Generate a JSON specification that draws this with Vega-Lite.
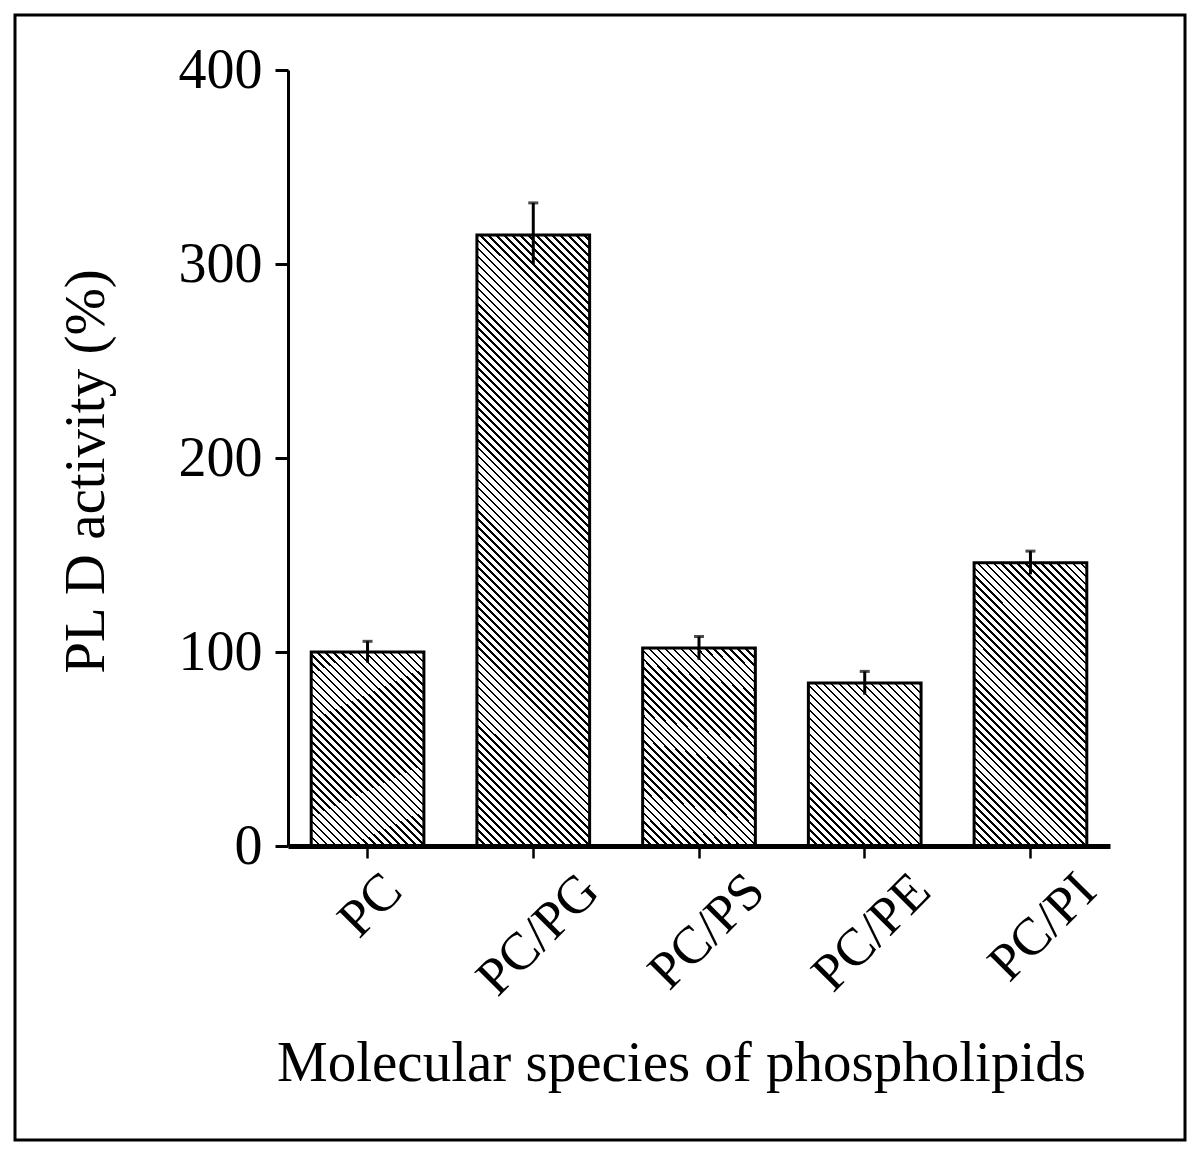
{
  "$schema": "https://vega.github.io/schema/vega-lite/v6.json",
  "width": 1170,
  "height": 1125,
  "autosize": {"type": "none"},
  "padding": {"left": 15, "top": 15, "right": 15, "bottom": 9},
  "background": "white",
  "config": {
    "view": {"stroke": "black", "strokeWidth": 3},
    "font": "Liberation Serif",
    "axis": {"labelFont": "Liberation Serif", "titleFont": "Liberation Serif", "labelColor": "black", "titleColor": "black", "tickColor": "black", "domainColor": "black", "grid": false, "titleFontWeight": "normal"}
  },
  "data": {"values": [
    {"species": "PC", "activity": 100, "lo": 94.5, "hi": 105.5},
    {"species": "PC/PG", "activity": 315, "lo": 300, "hi": 331.5},
    {"species": "PC/PS", "activity": 102, "lo": 96, "hi": 108},
    {"species": "PC/PE", "activity": 84, "lo": 78, "hi": 90},
    {"species": "PC/PI", "activity": 146, "lo": 140, "hi": 152}
  ]},
  "encoding": {
    "x": {
      "field": "species", "type": "nominal", "sort": null,
      "scale": {"domain": ["PC", "PC/PG", "PC/PS", "PC/PE", "PC/PI"], "range": [273, 1095], "paddingInner": 0.32, "paddingOuter": 0.14},
      "axis": {
        "title": "Molecular species of phospholipids",
        "titleFontSize": 57, "titleX": 666, "titleY": 234, "titleBaseline": "alphabetic", "titleAlign": "center",
        "labelAngle": -45, "labelAlign": "right", "labelBaseline": "middle", "labelFontSize": 53,
        "labelPadding": 24,
        "labelOffset": {"condition": {"test": "length(datum.label) < 3", "value": 26}, "value": 57},
        "tickSize": 12, "tickWidth": 2.5, "domainWidth": 5, "offset": -294, "zindex": 1
      }
    }
  },
  "layer": [
    {
      "transform": [{"filter": {"field": "species", "oneOf": ["PC", "PC/PS"]}}],
      "mark": {"type": "bar", "stroke": "black", "strokeWidth": 3, "fill": {"gradient": "linear", "x1": 0, "y1": 1, "x2": 0.6806, "y2": -0.1837, "stops": [
{"offset":0,"color":"#000"},{"offset":0.0087,"color":"#000"},{"offset":0.0087,"color":"#fff"},{"offset":0.026,"color":"#fff"},
{"offset":0.026,"color":"#000"},{"offset":0.0347,"color":"#000"},{"offset":0.0347,"color":"#fff"},{"offset":0.052,"color":"#fff"},
{"offset":0.052,"color":"#000"},{"offset":0.0607,"color":"#000"},{"offset":0.0607,"color":"#fff"},{"offset":0.078,"color":"#fff"},
{"offset":0.078,"color":"#000"},{"offset":0.0867,"color":"#000"},{"offset":0.0867,"color":"#fff"},{"offset":0.104,"color":"#fff"},
{"offset":0.104,"color":"#000"},{"offset":0.1127,"color":"#000"},{"offset":0.1127,"color":"#fff"},{"offset":0.13,"color":"#fff"},
{"offset":0.13,"color":"#000"},{"offset":0.1387,"color":"#000"},{"offset":0.1387,"color":"#fff"},{"offset":0.156,"color":"#fff"},
{"offset":0.156,"color":"#000"},{"offset":0.1647,"color":"#000"},{"offset":0.1647,"color":"#fff"},{"offset":0.182,"color":"#fff"},
{"offset":0.182,"color":"#000"},{"offset":0.1907,"color":"#000"},{"offset":0.1907,"color":"#fff"},{"offset":0.208,"color":"#fff"},
{"offset":0.208,"color":"#000"},{"offset":0.2167,"color":"#000"},{"offset":0.2167,"color":"#fff"},{"offset":0.234,"color":"#fff"},
{"offset":0.234,"color":"#000"},{"offset":0.2427,"color":"#000"},{"offset":0.2427,"color":"#fff"},{"offset":0.26,"color":"#fff"},
{"offset":0.26,"color":"#000"},{"offset":0.2687,"color":"#000"},{"offset":0.2687,"color":"#fff"},{"offset":0.286,"color":"#fff"},
{"offset":0.286,"color":"#000"},{"offset":0.2947,"color":"#000"},{"offset":0.2947,"color":"#fff"},{"offset":0.312,"color":"#fff"},
{"offset":0.312,"color":"#000"},{"offset":0.3207,"color":"#000"},{"offset":0.3207,"color":"#fff"},{"offset":0.338,"color":"#fff"},
{"offset":0.338,"color":"#000"},{"offset":0.3467,"color":"#000"},{"offset":0.3467,"color":"#fff"},{"offset":0.364,"color":"#fff"},
{"offset":0.364,"color":"#000"},{"offset":0.3727,"color":"#000"},{"offset":0.3727,"color":"#fff"},{"offset":0.39,"color":"#fff"},
{"offset":0.39,"color":"#000"},{"offset":0.3987,"color":"#000"},{"offset":0.3987,"color":"#fff"},{"offset":0.416,"color":"#fff"},
{"offset":0.416,"color":"#000"},{"offset":0.4247,"color":"#000"},{"offset":0.4247,"color":"#fff"},{"offset":0.442,"color":"#fff"},
{"offset":0.442,"color":"#000"},{"offset":0.4507,"color":"#000"},{"offset":0.4507,"color":"#fff"},{"offset":0.468,"color":"#fff"},
{"offset":0.468,"color":"#000"},{"offset":0.4767,"color":"#000"},{"offset":0.4767,"color":"#fff"},{"offset":0.494,"color":"#fff"},
{"offset":0.494,"color":"#000"},{"offset":0.5027,"color":"#000"},{"offset":0.5027,"color":"#fff"},{"offset":0.52,"color":"#fff"},
{"offset":0.52,"color":"#000"},{"offset":0.5287,"color":"#000"},{"offset":0.5287,"color":"#fff"},{"offset":0.546,"color":"#fff"},
{"offset":0.546,"color":"#000"},{"offset":0.5547,"color":"#000"},{"offset":0.5547,"color":"#fff"},{"offset":0.572,"color":"#fff"},
{"offset":0.572,"color":"#000"},{"offset":0.5807,"color":"#000"},{"offset":0.5807,"color":"#fff"},{"offset":0.598,"color":"#fff"},
{"offset":0.598,"color":"#000"},{"offset":0.6067,"color":"#000"},{"offset":0.6067,"color":"#fff"},{"offset":0.624,"color":"#fff"},
{"offset":0.624,"color":"#000"},{"offset":0.6327,"color":"#000"},{"offset":0.6327,"color":"#fff"},{"offset":0.65,"color":"#fff"},
{"offset":0.65,"color":"#000"},{"offset":0.6587,"color":"#000"},{"offset":0.6587,"color":"#fff"},{"offset":0.676,"color":"#fff"},
{"offset":0.676,"color":"#000"},{"offset":0.6847,"color":"#000"},{"offset":0.6847,"color":"#fff"},{"offset":0.702,"color":"#fff"},
{"offset":0.702,"color":"#000"},{"offset":0.7107,"color":"#000"},{"offset":0.7107,"color":"#fff"},{"offset":0.728,"color":"#fff"},
{"offset":0.728,"color":"#000"},{"offset":0.7367,"color":"#000"},{"offset":0.7367,"color":"#fff"},{"offset":0.754,"color":"#fff"},
{"offset":0.754,"color":"#000"},{"offset":0.7627,"color":"#000"},{"offset":0.7627,"color":"#fff"},{"offset":0.78,"color":"#fff"},
{"offset":0.78,"color":"#000"},{"offset":0.7887,"color":"#000"},{"offset":0.7887,"color":"#fff"},{"offset":0.806,"color":"#fff"},
{"offset":0.806,"color":"#000"},{"offset":0.8147,"color":"#000"},{"offset":0.8147,"color":"#fff"},{"offset":0.832,"color":"#fff"},
{"offset":0.832,"color":"#000"},{"offset":0.8407,"color":"#000"},{"offset":0.8407,"color":"#fff"},{"offset":0.858,"color":"#fff"},
{"offset":0.858,"color":"#000"},{"offset":0.8667,"color":"#000"},{"offset":0.8667,"color":"#fff"},{"offset":0.884,"color":"#fff"},
{"offset":0.884,"color":"#000"},{"offset":0.8927,"color":"#000"},{"offset":0.8927,"color":"#fff"},{"offset":0.91,"color":"#fff"},
{"offset":0.91,"color":"#000"},{"offset":0.9187,"color":"#000"},{"offset":0.9187,"color":"#fff"},{"offset":0.936,"color":"#fff"},
{"offset":0.936,"color":"#000"},{"offset":0.9447,"color":"#000"},{"offset":0.9447,"color":"#fff"},{"offset":0.962,"color":"#fff"},
{"offset":0.962,"color":"#000"},{"offset":0.9707,"color":"#000"},{"offset":0.9707,"color":"#fff"},{"offset":0.988,"color":"#fff"},
{"offset":0.988,"color":"#000"},{"offset":0.9967,"color":"#000"},{"offset":0.9967,"color":"#fff"},{"offset":1,"color":"#fff"}
      ]}},
      "encoding": {
        "y": {
          "field": "activity", "type": "quantitative",
          "scale": {"domain": [0, 400], "range": [831, 55], "nice": false, "zero": true},
          "axis": {
            "title": "PL D activity (%)", "values": [0, 100, 200, 300, 400],
            "offset": -273, "tickSize": 13, "tickWidth": 3, "domainWidth": 3,
            "labelFontSize": 56, "labelPadding": 13,
            "titleFontSize": 57, "titleX": -185, "titleY": 456, "titleBaseline": "alphabetic", "titleAngle": 270, "titleAlign": "center",
            "zindex": 1
          }
        }
      }
    },
    {
      "transform": [{"filter": {"field": "species", "equal": "PC/PG"}}],
      "mark": {"type": "bar", "stroke": "black", "strokeWidth": 3, "fill": {"gradient": "linear", "x1": 0, "y1": 1, "x2": 0.2112, "y2": -0.1455, "stops": [
{"offset":0,"color":"#000"},{"offset":0.0037,"color":"#000"},{"offset":0.0037,"color":"#fff"},{"offset":0.011,"color":"#fff"},
{"offset":0.011,"color":"#000"},{"offset":0.0147,"color":"#000"},{"offset":0.0147,"color":"#fff"},{"offset":0.022,"color":"#fff"},
{"offset":0.022,"color":"#000"},{"offset":0.0257,"color":"#000"},{"offset":0.0257,"color":"#fff"},{"offset":0.033,"color":"#fff"},
{"offset":0.033,"color":"#000"},{"offset":0.0367,"color":"#000"},{"offset":0.0367,"color":"#fff"},{"offset":0.044,"color":"#fff"},
{"offset":0.044,"color":"#000"},{"offset":0.0477,"color":"#000"},{"offset":0.0477,"color":"#fff"},{"offset":0.055,"color":"#fff"},
{"offset":0.055,"color":"#000"},{"offset":0.0587,"color":"#000"},{"offset":0.0587,"color":"#fff"},{"offset":0.066,"color":"#fff"},
{"offset":0.066,"color":"#000"},{"offset":0.0697,"color":"#000"},{"offset":0.0697,"color":"#fff"},{"offset":0.077,"color":"#fff"},
{"offset":0.077,"color":"#000"},{"offset":0.0807,"color":"#000"},{"offset":0.0807,"color":"#fff"},{"offset":0.088,"color":"#fff"},
{"offset":0.088,"color":"#000"},{"offset":0.0917,"color":"#000"},{"offset":0.0917,"color":"#fff"},{"offset":0.099,"color":"#fff"},
{"offset":0.099,"color":"#000"},{"offset":0.1027,"color":"#000"},{"offset":0.1027,"color":"#fff"},{"offset":0.11,"color":"#fff"},
{"offset":0.11,"color":"#000"},{"offset":0.1137,"color":"#000"},{"offset":0.1137,"color":"#fff"},{"offset":0.121,"color":"#fff"},
{"offset":0.121,"color":"#000"},{"offset":0.1247,"color":"#000"},{"offset":0.1247,"color":"#fff"},{"offset":0.132,"color":"#fff"},
{"offset":0.132,"color":"#000"},{"offset":0.1357,"color":"#000"},{"offset":0.1357,"color":"#fff"},{"offset":0.143,"color":"#fff"},
{"offset":0.143,"color":"#000"},{"offset":0.1467,"color":"#000"},{"offset":0.1467,"color":"#fff"},{"offset":0.154,"color":"#fff"},
{"offset":0.154,"color":"#000"},{"offset":0.1577,"color":"#000"},{"offset":0.1577,"color":"#fff"},{"offset":0.165,"color":"#fff"},
{"offset":0.165,"color":"#000"},{"offset":0.1687,"color":"#000"},{"offset":0.1687,"color":"#fff"},{"offset":0.176,"color":"#fff"},
{"offset":0.176,"color":"#000"},{"offset":0.1797,"color":"#000"},{"offset":0.1797,"color":"#fff"},{"offset":0.187,"color":"#fff"},
{"offset":0.187,"color":"#000"},{"offset":0.1907,"color":"#000"},{"offset":0.1907,"color":"#fff"},{"offset":0.198,"color":"#fff"},
{"offset":0.198,"color":"#000"},{"offset":0.2017,"color":"#000"},{"offset":0.2017,"color":"#fff"},{"offset":0.209,"color":"#fff"},
{"offset":0.209,"color":"#000"},{"offset":0.2127,"color":"#000"},{"offset":0.2127,"color":"#fff"},{"offset":0.22,"color":"#fff"},
{"offset":0.22,"color":"#000"},{"offset":0.2237,"color":"#000"},{"offset":0.2237,"color":"#fff"},{"offset":0.231,"color":"#fff"},
{"offset":0.231,"color":"#000"},{"offset":0.2347,"color":"#000"},{"offset":0.2347,"color":"#fff"},{"offset":0.242,"color":"#fff"},
{"offset":0.242,"color":"#000"},{"offset":0.2457,"color":"#000"},{"offset":0.2457,"color":"#fff"},{"offset":0.253,"color":"#fff"},
{"offset":0.253,"color":"#000"},{"offset":0.2567,"color":"#000"},{"offset":0.2567,"color":"#fff"},{"offset":0.264,"color":"#fff"},
{"offset":0.264,"color":"#000"},{"offset":0.2677,"color":"#000"},{"offset":0.2677,"color":"#fff"},{"offset":0.275,"color":"#fff"},
{"offset":0.275,"color":"#000"},{"offset":0.2787,"color":"#000"},{"offset":0.2787,"color":"#fff"},{"offset":0.286,"color":"#fff"},
{"offset":0.286,"color":"#000"},{"offset":0.2897,"color":"#000"},{"offset":0.2897,"color":"#fff"},{"offset":0.297,"color":"#fff"},
{"offset":0.297,"color":"#000"},{"offset":0.3007,"color":"#000"},{"offset":0.3007,"color":"#fff"},{"offset":0.308,"color":"#fff"},
{"offset":0.308,"color":"#000"},{"offset":0.3117,"color":"#000"},{"offset":0.3117,"color":"#fff"},{"offset":0.319,"color":"#fff"},
{"offset":0.319,"color":"#000"},{"offset":0.3227,"color":"#000"},{"offset":0.3227,"color":"#fff"},{"offset":0.33,"color":"#fff"},
{"offset":0.33,"color":"#000"},{"offset":0.3337,"color":"#000"},{"offset":0.3337,"color":"#fff"},{"offset":0.341,"color":"#fff"},
{"offset":0.341,"color":"#000"},{"offset":0.3447,"color":"#000"},{"offset":0.3447,"color":"#fff"},{"offset":0.352,"color":"#fff"},
{"offset":0.352,"color":"#000"},{"offset":0.3557,"color":"#000"},{"offset":0.3557,"color":"#fff"},{"offset":0.363,"color":"#fff"},
{"offset":0.363,"color":"#000"},{"offset":0.3667,"color":"#000"},{"offset":0.3667,"color":"#fff"},{"offset":0.374,"color":"#fff"},
{"offset":0.374,"color":"#000"},{"offset":0.3777,"color":"#000"},{"offset":0.3777,"color":"#fff"},{"offset":0.385,"color":"#fff"},
{"offset":0.385,"color":"#000"},{"offset":0.3887,"color":"#000"},{"offset":0.3887,"color":"#fff"},{"offset":0.396,"color":"#fff"},
{"offset":0.396,"color":"#000"},{"offset":0.3997,"color":"#000"},{"offset":0.3997,"color":"#fff"},{"offset":0.407,"color":"#fff"},
{"offset":0.407,"color":"#000"},{"offset":0.4107,"color":"#000"},{"offset":0.4107,"color":"#fff"},{"offset":0.418,"color":"#fff"},
{"offset":0.418,"color":"#000"},{"offset":0.4217,"color":"#000"},{"offset":0.4217,"color":"#fff"},{"offset":0.429,"color":"#fff"},
{"offset":0.429,"color":"#000"},{"offset":0.4327,"color":"#000"},{"offset":0.4327,"color":"#fff"},{"offset":0.44,"color":"#fff"},
{"offset":0.44,"color":"#000"},{"offset":0.4437,"color":"#000"},{"offset":0.4437,"color":"#fff"},{"offset":0.451,"color":"#fff"},
{"offset":0.451,"color":"#000"},{"offset":0.4547,"color":"#000"},{"offset":0.4547,"color":"#fff"},{"offset":0.462,"color":"#fff"},
{"offset":0.462,"color":"#000"},{"offset":0.4657,"color":"#000"},{"offset":0.4657,"color":"#fff"},{"offset":0.473,"color":"#fff"},
{"offset":0.473,"color":"#000"},{"offset":0.4767,"color":"#000"},{"offset":0.4767,"color":"#fff"},{"offset":0.484,"color":"#fff"},
{"offset":0.484,"color":"#000"},{"offset":0.4877,"color":"#000"},{"offset":0.4877,"color":"#fff"},{"offset":0.495,"color":"#fff"},
{"offset":0.495,"color":"#000"},{"offset":0.4987,"color":"#000"},{"offset":0.4987,"color":"#fff"},{"offset":0.506,"color":"#fff"},
{"offset":0.506,"color":"#000"},{"offset":0.5097,"color":"#000"},{"offset":0.5097,"color":"#fff"},{"offset":0.517,"color":"#fff"},
{"offset":0.517,"color":"#000"},{"offset":0.5207,"color":"#000"},{"offset":0.5207,"color":"#fff"},{"offset":0.528,"color":"#fff"},
{"offset":0.528,"color":"#000"},{"offset":0.5317,"color":"#000"},{"offset":0.5317,"color":"#fff"},{"offset":0.539,"color":"#fff"},
{"offset":0.539,"color":"#000"},{"offset":0.5427,"color":"#000"},{"offset":0.5427,"color":"#fff"},{"offset":0.55,"color":"#fff"},
{"offset":0.55,"color":"#000"},{"offset":0.5537,"color":"#000"},{"offset":0.5537,"color":"#fff"},{"offset":0.561,"color":"#fff"},
{"offset":0.561,"color":"#000"},{"offset":0.5647,"color":"#000"},{"offset":0.5647,"color":"#fff"},{"offset":0.572,"color":"#fff"},
{"offset":0.572,"color":"#000"},{"offset":0.5757,"color":"#000"},{"offset":0.5757,"color":"#fff"},{"offset":0.583,"color":"#fff"},
{"offset":0.583,"color":"#000"},{"offset":0.5867,"color":"#000"},{"offset":0.5867,"color":"#fff"},{"offset":0.594,"color":"#fff"},
{"offset":0.594,"color":"#000"},{"offset":0.5977,"color":"#000"},{"offset":0.5977,"color":"#fff"},{"offset":0.605,"color":"#fff"},
{"offset":0.605,"color":"#000"},{"offset":0.6087,"color":"#000"},{"offset":0.6087,"color":"#fff"},{"offset":0.616,"color":"#fff"},
{"offset":0.616,"color":"#000"},{"offset":0.6197,"color":"#000"},{"offset":0.6197,"color":"#fff"},{"offset":0.627,"color":"#fff"},
{"offset":0.627,"color":"#000"},{"offset":0.6307,"color":"#000"},{"offset":0.6307,"color":"#fff"},{"offset":0.638,"color":"#fff"},
{"offset":0.638,"color":"#000"},{"offset":0.6417,"color":"#000"},{"offset":0.6417,"color":"#fff"},{"offset":0.649,"color":"#fff"},
{"offset":0.649,"color":"#000"},{"offset":0.6527,"color":"#000"},{"offset":0.6527,"color":"#fff"},{"offset":0.66,"color":"#fff"},
{"offset":0.66,"color":"#000"},{"offset":0.6637,"color":"#000"},{"offset":0.6637,"color":"#fff"},{"offset":0.671,"color":"#fff"},
{"offset":0.671,"color":"#000"},{"offset":0.6747,"color":"#000"},{"offset":0.6747,"color":"#fff"},{"offset":0.682,"color":"#fff"},
{"offset":0.682,"color":"#000"},{"offset":0.6857,"color":"#000"},{"offset":0.6857,"color":"#fff"},{"offset":0.693,"color":"#fff"},
{"offset":0.693,"color":"#000"},{"offset":0.6967,"color":"#000"},{"offset":0.6967,"color":"#fff"},{"offset":0.704,"color":"#fff"},
{"offset":0.704,"color":"#000"},{"offset":0.7077,"color":"#000"},{"offset":0.7077,"color":"#fff"},{"offset":0.715,"color":"#fff"},
{"offset":0.715,"color":"#000"},{"offset":0.7187,"color":"#000"},{"offset":0.7187,"color":"#fff"},{"offset":0.726,"color":"#fff"},
{"offset":0.726,"color":"#000"},{"offset":0.7297,"color":"#000"},{"offset":0.7297,"color":"#fff"},{"offset":0.737,"color":"#fff"},
{"offset":0.737,"color":"#000"},{"offset":0.7407,"color":"#000"},{"offset":0.7407,"color":"#fff"},{"offset":0.748,"color":"#fff"},
{"offset":0.748,"color":"#000"},{"offset":0.7517,"color":"#000"},{"offset":0.7517,"color":"#fff"},{"offset":0.759,"color":"#fff"},
{"offset":0.759,"color":"#000"},{"offset":0.7627,"color":"#000"},{"offset":0.7627,"color":"#fff"},{"offset":0.77,"color":"#fff"},
{"offset":0.77,"color":"#000"},{"offset":0.7737,"color":"#000"},{"offset":0.7737,"color":"#fff"},{"offset":0.781,"color":"#fff"},
{"offset":0.781,"color":"#000"},{"offset":0.7847,"color":"#000"},{"offset":0.7847,"color":"#fff"},{"offset":0.792,"color":"#fff"},
{"offset":0.792,"color":"#000"},{"offset":0.7957,"color":"#000"},{"offset":0.7957,"color":"#fff"},{"offset":0.803,"color":"#fff"},
{"offset":0.803,"color":"#000"},{"offset":0.8067,"color":"#000"},{"offset":0.8067,"color":"#fff"},{"offset":0.814,"color":"#fff"},
{"offset":0.814,"color":"#000"},{"offset":0.8177,"color":"#000"},{"offset":0.8177,"color":"#fff"},{"offset":0.825,"color":"#fff"},
{"offset":0.825,"color":"#000"},{"offset":0.8287,"color":"#000"},{"offset":0.8287,"color":"#fff"},{"offset":0.836,"color":"#fff"},
{"offset":0.836,"color":"#000"},{"offset":0.8397,"color":"#000"},{"offset":0.8397,"color":"#fff"},{"offset":0.847,"color":"#fff"},
{"offset":0.847,"color":"#000"},{"offset":0.8507,"color":"#000"},{"offset":0.8507,"color":"#fff"},{"offset":0.858,"color":"#fff"},
{"offset":0.858,"color":"#000"},{"offset":0.8617,"color":"#000"},{"offset":0.8617,"color":"#fff"},{"offset":0.869,"color":"#fff"},
{"offset":0.869,"color":"#000"},{"offset":0.8727,"color":"#000"},{"offset":0.8727,"color":"#fff"},{"offset":0.88,"color":"#fff"},
{"offset":0.88,"color":"#000"},{"offset":0.8837,"color":"#000"},{"offset":0.8837,"color":"#fff"},{"offset":0.891,"color":"#fff"},
{"offset":0.891,"color":"#000"},{"offset":0.8947,"color":"#000"},{"offset":0.8947,"color":"#fff"},{"offset":0.902,"color":"#fff"},
{"offset":0.902,"color":"#000"},{"offset":0.9057,"color":"#000"},{"offset":0.9057,"color":"#fff"},{"offset":0.913,"color":"#fff"},
{"offset":0.913,"color":"#000"},{"offset":0.9167,"color":"#000"},{"offset":0.9167,"color":"#fff"},{"offset":0.924,"color":"#fff"},
{"offset":0.924,"color":"#000"},{"offset":0.9277,"color":"#000"},{"offset":0.9277,"color":"#fff"},{"offset":0.935,"color":"#fff"},
{"offset":0.935,"color":"#000"},{"offset":0.9387,"color":"#000"},{"offset":0.9387,"color":"#fff"},{"offset":0.946,"color":"#fff"},
{"offset":0.946,"color":"#000"},{"offset":0.9497,"color":"#000"},{"offset":0.9497,"color":"#fff"},{"offset":0.957,"color":"#fff"},
{"offset":0.957,"color":"#000"},{"offset":0.9607,"color":"#000"},{"offset":0.9607,"color":"#fff"},{"offset":0.968,"color":"#fff"},
{"offset":0.968,"color":"#000"},{"offset":0.9717,"color":"#000"},{"offset":0.9717,"color":"#fff"},{"offset":0.979,"color":"#fff"},
{"offset":0.979,"color":"#000"},{"offset":0.9827,"color":"#000"},{"offset":0.9827,"color":"#fff"},{"offset":0.99,"color":"#fff"},
{"offset":0.99,"color":"#000"},{"offset":0.9937,"color":"#000"},{"offset":0.9937,"color":"#fff"},{"offset":1,"color":"#fff"}
      ]}},
      "encoding": {"y": {"field": "activity", "type": "quantitative", "title": "PL D activity (%)"}}
    },
    {
      "transform": [{"filter": {"field": "species", "equal": "PC/PE"}}],
      "mark": {"type": "bar", "stroke": "black", "strokeWidth": 3, "fill": {"gradient": "linear", "x1": 0, "y1": 1, "x2": 0.7912, "y2": -0.1444, "stops": [
{"offset":0,"color":"#000"},{"offset":0.0097,"color":"#000"},{"offset":0.0097,"color":"#fff"},{"offset":0.029,"color":"#fff"},
{"offset":0.029,"color":"#000"},{"offset":0.0387,"color":"#000"},{"offset":0.0387,"color":"#fff"},{"offset":0.058,"color":"#fff"},
{"offset":0.058,"color":"#000"},{"offset":0.0677,"color":"#000"},{"offset":0.0677,"color":"#fff"},{"offset":0.087,"color":"#fff"},
{"offset":0.087,"color":"#000"},{"offset":0.0967,"color":"#000"},{"offset":0.0967,"color":"#fff"},{"offset":0.116,"color":"#fff"},
{"offset":0.116,"color":"#000"},{"offset":0.1257,"color":"#000"},{"offset":0.1257,"color":"#fff"},{"offset":0.145,"color":"#fff"},
{"offset":0.145,"color":"#000"},{"offset":0.1547,"color":"#000"},{"offset":0.1547,"color":"#fff"},{"offset":0.174,"color":"#fff"},
{"offset":0.174,"color":"#000"},{"offset":0.1837,"color":"#000"},{"offset":0.1837,"color":"#fff"},{"offset":0.203,"color":"#fff"},
{"offset":0.203,"color":"#000"},{"offset":0.2127,"color":"#000"},{"offset":0.2127,"color":"#fff"},{"offset":0.232,"color":"#fff"},
{"offset":0.232,"color":"#000"},{"offset":0.2417,"color":"#000"},{"offset":0.2417,"color":"#fff"},{"offset":0.261,"color":"#fff"},
{"offset":0.261,"color":"#000"},{"offset":0.2707,"color":"#000"},{"offset":0.2707,"color":"#fff"},{"offset":0.29,"color":"#fff"},
{"offset":0.29,"color":"#000"},{"offset":0.2997,"color":"#000"},{"offset":0.2997,"color":"#fff"},{"offset":0.319,"color":"#fff"},
{"offset":0.319,"color":"#000"},{"offset":0.3287,"color":"#000"},{"offset":0.3287,"color":"#fff"},{"offset":0.348,"color":"#fff"},
{"offset":0.348,"color":"#000"},{"offset":0.3577,"color":"#000"},{"offset":0.3577,"color":"#fff"},{"offset":0.377,"color":"#fff"},
{"offset":0.377,"color":"#000"},{"offset":0.3867,"color":"#000"},{"offset":0.3867,"color":"#fff"},{"offset":0.406,"color":"#fff"},
{"offset":0.406,"color":"#000"},{"offset":0.4157,"color":"#000"},{"offset":0.4157,"color":"#fff"},{"offset":0.435,"color":"#fff"},
{"offset":0.435,"color":"#000"},{"offset":0.4447,"color":"#000"},{"offset":0.4447,"color":"#fff"},{"offset":0.464,"color":"#fff"},
{"offset":0.464,"color":"#000"},{"offset":0.4737,"color":"#000"},{"offset":0.4737,"color":"#fff"},{"offset":0.493,"color":"#fff"},
{"offset":0.493,"color":"#000"},{"offset":0.5027,"color":"#000"},{"offset":0.5027,"color":"#fff"},{"offset":0.522,"color":"#fff"},
{"offset":0.522,"color":"#000"},{"offset":0.5317,"color":"#000"},{"offset":0.5317,"color":"#fff"},{"offset":0.551,"color":"#fff"},
{"offset":0.551,"color":"#000"},{"offset":0.5607,"color":"#000"},{"offset":0.5607,"color":"#fff"},{"offset":0.58,"color":"#fff"},
{"offset":0.58,"color":"#000"},{"offset":0.5897,"color":"#000"},{"offset":0.5897,"color":"#fff"},{"offset":0.609,"color":"#fff"},
{"offset":0.609,"color":"#000"},{"offset":0.6187,"color":"#000"},{"offset":0.6187,"color":"#fff"},{"offset":0.638,"color":"#fff"},
{"offset":0.638,"color":"#000"},{"offset":0.6477,"color":"#000"},{"offset":0.6477,"color":"#fff"},{"offset":0.667,"color":"#fff"},
{"offset":0.667,"color":"#000"},{"offset":0.6767,"color":"#000"},{"offset":0.6767,"color":"#fff"},{"offset":0.696,"color":"#fff"},
{"offset":0.696,"color":"#000"},{"offset":0.7057,"color":"#000"},{"offset":0.7057,"color":"#fff"},{"offset":0.725,"color":"#fff"},
{"offset":0.725,"color":"#000"},{"offset":0.7347,"color":"#000"},{"offset":0.7347,"color":"#fff"},{"offset":0.754,"color":"#fff"},
{"offset":0.754,"color":"#000"},{"offset":0.7637,"color":"#000"},{"offset":0.7637,"color":"#fff"},{"offset":0.783,"color":"#fff"},
{"offset":0.783,"color":"#000"},{"offset":0.7927,"color":"#000"},{"offset":0.7927,"color":"#fff"},{"offset":0.812,"color":"#fff"},
{"offset":0.812,"color":"#000"},{"offset":0.8217,"color":"#000"},{"offset":0.8217,"color":"#fff"},{"offset":0.841,"color":"#fff"},
{"offset":0.841,"color":"#000"},{"offset":0.8507,"color":"#000"},{"offset":0.8507,"color":"#fff"},{"offset":0.87,"color":"#fff"},
{"offset":0.87,"color":"#000"},{"offset":0.8797,"color":"#000"},{"offset":0.8797,"color":"#fff"},{"offset":0.899,"color":"#fff"},
{"offset":0.899,"color":"#000"},{"offset":0.9087,"color":"#000"},{"offset":0.9087,"color":"#fff"},{"offset":0.928,"color":"#fff"},
{"offset":0.928,"color":"#000"},{"offset":0.9377,"color":"#000"},{"offset":0.9377,"color":"#fff"},{"offset":0.957,"color":"#fff"},
{"offset":0.957,"color":"#000"},{"offset":0.9667,"color":"#000"},{"offset":0.9667,"color":"#fff"},{"offset":0.986,"color":"#fff"},
{"offset":0.986,"color":"#000"},{"offset":0.9957,"color":"#000"},{"offset":0.9957,"color":"#fff"},{"offset":1,"color":"#fff"}
      ]}},
      "encoding": {"y": {"field": "activity", "type": "quantitative", "title": "PL D activity (%)"}}
    },
    {
      "transform": [{"filter": {"field": "species", "equal": "PC/PI"}}],
      "mark": {"type": "bar", "stroke": "black", "strokeWidth": 3, "fill": {"gradient": "linear", "x1": 0, "y1": 1, "x2": 0.4803, "y2": -0.2068, "stops": [
{"offset":0,"color":"#000"},{"offset":0.0067,"color":"#000"},{"offset":0.0067,"color":"#fff"},{"offset":0.02,"color":"#fff"},
{"offset":0.02,"color":"#000"},{"offset":0.0267,"color":"#000"},{"offset":0.0267,"color":"#fff"},{"offset":0.04,"color":"#fff"},
{"offset":0.04,"color":"#000"},{"offset":0.0467,"color":"#000"},{"offset":0.0467,"color":"#fff"},{"offset":0.06,"color":"#fff"},
{"offset":0.06,"color":"#000"},{"offset":0.0667,"color":"#000"},{"offset":0.0667,"color":"#fff"},{"offset":0.08,"color":"#fff"},
{"offset":0.08,"color":"#000"},{"offset":0.0867,"color":"#000"},{"offset":0.0867,"color":"#fff"},{"offset":0.1,"color":"#fff"},
{"offset":0.1,"color":"#000"},{"offset":0.1067,"color":"#000"},{"offset":0.1067,"color":"#fff"},{"offset":0.12,"color":"#fff"},
{"offset":0.12,"color":"#000"},{"offset":0.1267,"color":"#000"},{"offset":0.1267,"color":"#fff"},{"offset":0.14,"color":"#fff"},
{"offset":0.14,"color":"#000"},{"offset":0.1467,"color":"#000"},{"offset":0.1467,"color":"#fff"},{"offset":0.16,"color":"#fff"},
{"offset":0.16,"color":"#000"},{"offset":0.1667,"color":"#000"},{"offset":0.1667,"color":"#fff"},{"offset":0.18,"color":"#fff"},
{"offset":0.18,"color":"#000"},{"offset":0.1867,"color":"#000"},{"offset":0.1867,"color":"#fff"},{"offset":0.2,"color":"#fff"},
{"offset":0.2,"color":"#000"},{"offset":0.2067,"color":"#000"},{"offset":0.2067,"color":"#fff"},{"offset":0.22,"color":"#fff"},
{"offset":0.22,"color":"#000"},{"offset":0.2267,"color":"#000"},{"offset":0.2267,"color":"#fff"},{"offset":0.24,"color":"#fff"},
{"offset":0.24,"color":"#000"},{"offset":0.2467,"color":"#000"},{"offset":0.2467,"color":"#fff"},{"offset":0.26,"color":"#fff"},
{"offset":0.26,"color":"#000"},{"offset":0.2667,"color":"#000"},{"offset":0.2667,"color":"#fff"},{"offset":0.28,"color":"#fff"},
{"offset":0.28,"color":"#000"},{"offset":0.2867,"color":"#000"},{"offset":0.2867,"color":"#fff"},{"offset":0.3,"color":"#fff"},
{"offset":0.3,"color":"#000"},{"offset":0.3067,"color":"#000"},{"offset":0.3067,"color":"#fff"},{"offset":0.32,"color":"#fff"},
{"offset":0.32,"color":"#000"},{"offset":0.3267,"color":"#000"},{"offset":0.3267,"color":"#fff"},{"offset":0.34,"color":"#fff"},
{"offset":0.34,"color":"#000"},{"offset":0.3467,"color":"#000"},{"offset":0.3467,"color":"#fff"},{"offset":0.36,"color":"#fff"},
{"offset":0.36,"color":"#000"},{"offset":0.3667,"color":"#000"},{"offset":0.3667,"color":"#fff"},{"offset":0.38,"color":"#fff"},
{"offset":0.38,"color":"#000"},{"offset":0.3867,"color":"#000"},{"offset":0.3867,"color":"#fff"},{"offset":0.4,"color":"#fff"},
{"offset":0.4,"color":"#000"},{"offset":0.4067,"color":"#000"},{"offset":0.4067,"color":"#fff"},{"offset":0.42,"color":"#fff"},
{"offset":0.42,"color":"#000"},{"offset":0.4267,"color":"#000"},{"offset":0.4267,"color":"#fff"},{"offset":0.44,"color":"#fff"},
{"offset":0.44,"color":"#000"},{"offset":0.4467,"color":"#000"},{"offset":0.4467,"color":"#fff"},{"offset":0.46,"color":"#fff"},
{"offset":0.46,"color":"#000"},{"offset":0.4667,"color":"#000"},{"offset":0.4667,"color":"#fff"},{"offset":0.48,"color":"#fff"},
{"offset":0.48,"color":"#000"},{"offset":0.4867,"color":"#000"},{"offset":0.4867,"color":"#fff"},{"offset":0.5,"color":"#fff"},
{"offset":0.5,"color":"#000"},{"offset":0.5067,"color":"#000"},{"offset":0.5067,"color":"#fff"},{"offset":0.52,"color":"#fff"},
{"offset":0.52,"color":"#000"},{"offset":0.5267,"color":"#000"},{"offset":0.5267,"color":"#fff"},{"offset":0.54,"color":"#fff"},
{"offset":0.54,"color":"#000"},{"offset":0.5467,"color":"#000"},{"offset":0.5467,"color":"#fff"},{"offset":0.56,"color":"#fff"},
{"offset":0.56,"color":"#000"},{"offset":0.5667,"color":"#000"},{"offset":0.5667,"color":"#fff"},{"offset":0.58,"color":"#fff"},
{"offset":0.58,"color":"#000"},{"offset":0.5867,"color":"#000"},{"offset":0.5867,"color":"#fff"},{"offset":0.6,"color":"#fff"},
{"offset":0.6,"color":"#000"},{"offset":0.6067,"color":"#000"},{"offset":0.6067,"color":"#fff"},{"offset":0.62,"color":"#fff"},
{"offset":0.62,"color":"#000"},{"offset":0.6267,"color":"#000"},{"offset":0.6267,"color":"#fff"},{"offset":0.64,"color":"#fff"},
{"offset":0.64,"color":"#000"},{"offset":0.6467,"color":"#000"},{"offset":0.6467,"color":"#fff"},{"offset":0.66,"color":"#fff"},
{"offset":0.66,"color":"#000"},{"offset":0.6667,"color":"#000"},{"offset":0.6667,"color":"#fff"},{"offset":0.68,"color":"#fff"},
{"offset":0.68,"color":"#000"},{"offset":0.6867,"color":"#000"},{"offset":0.6867,"color":"#fff"},{"offset":0.7,"color":"#fff"},
{"offset":0.7,"color":"#000"},{"offset":0.7067,"color":"#000"},{"offset":0.7067,"color":"#fff"},{"offset":0.72,"color":"#fff"},
{"offset":0.72,"color":"#000"},{"offset":0.7267,"color":"#000"},{"offset":0.7267,"color":"#fff"},{"offset":0.74,"color":"#fff"},
{"offset":0.74,"color":"#000"},{"offset":0.7467,"color":"#000"},{"offset":0.7467,"color":"#fff"},{"offset":0.76,"color":"#fff"},
{"offset":0.76,"color":"#000"},{"offset":0.7667,"color":"#000"},{"offset":0.7667,"color":"#fff"},{"offset":0.78,"color":"#fff"},
{"offset":0.78,"color":"#000"},{"offset":0.7867,"color":"#000"},{"offset":0.7867,"color":"#fff"},{"offset":0.8,"color":"#fff"},
{"offset":0.8,"color":"#000"},{"offset":0.8067,"color":"#000"},{"offset":0.8067,"color":"#fff"},{"offset":0.82,"color":"#fff"},
{"offset":0.82,"color":"#000"},{"offset":0.8267,"color":"#000"},{"offset":0.8267,"color":"#fff"},{"offset":0.84,"color":"#fff"},
{"offset":0.84,"color":"#000"},{"offset":0.8467,"color":"#000"},{"offset":0.8467,"color":"#fff"},{"offset":0.86,"color":"#fff"},
{"offset":0.86,"color":"#000"},{"offset":0.8667,"color":"#000"},{"offset":0.8667,"color":"#fff"},{"offset":0.88,"color":"#fff"},
{"offset":0.88,"color":"#000"},{"offset":0.8867,"color":"#000"},{"offset":0.8867,"color":"#fff"},{"offset":0.9,"color":"#fff"},
{"offset":0.9,"color":"#000"},{"offset":0.9067,"color":"#000"},{"offset":0.9067,"color":"#fff"},{"offset":0.92,"color":"#fff"},
{"offset":0.92,"color":"#000"},{"offset":0.9267,"color":"#000"},{"offset":0.9267,"color":"#fff"},{"offset":0.94,"color":"#fff"},
{"offset":0.94,"color":"#000"},{"offset":0.9467,"color":"#000"},{"offset":0.9467,"color":"#fff"},{"offset":0.96,"color":"#fff"},
{"offset":0.96,"color":"#000"},{"offset":0.9667,"color":"#000"},{"offset":0.9667,"color":"#fff"},{"offset":0.98,"color":"#fff"},
{"offset":0.98,"color":"#000"},{"offset":0.9867,"color":"#000"},{"offset":0.9867,"color":"#fff"},{"offset":1,"color":"#fff"}
      ]}},
      "encoding": {"y": {"field": "activity", "type": "quantitative", "title": "PL D activity (%)"}}
    },
    {
      "mark": {"type": "rule", "strokeWidth": 3, "color": "black"},
      "encoding": {
        "y": {"field": "lo", "type": "quantitative", "title": "PL D activity (%)"},
        "y2": {"field": "hi"}
      }
    },
    {
      "mark": {"type": "tick", "thickness": 3, "size": 10, "color": "black"},
      "encoding": {
        "y": {"field": "hi", "type": "quantitative", "title": "PL D activity (%)"}
      }
    }
  ]
}
